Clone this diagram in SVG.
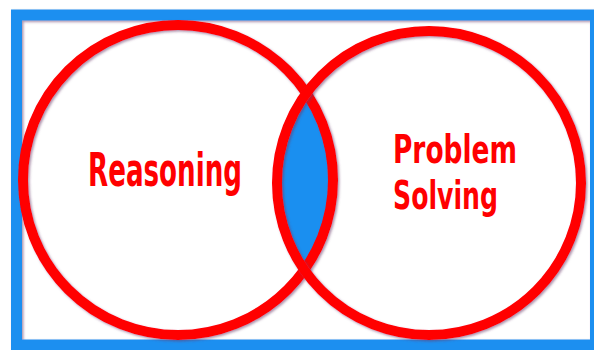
<svg xmlns="http://www.w3.org/2000/svg" width="594" height="350" viewBox="0 0 594 350">
<defs>
<filter id="sh" x="-10%" y="-10%" width="120%" height="120%">
<feDropShadow dx="1.5" dy="1.5" stdDeviation="1.2" flood-color="#6a3a6a" flood-opacity="0.55"/>
</filter>
<clipPath id="lc"><circle cx="178" cy="180" r="155"/></clipPath>
</defs>
<style>
.ring{fill:none;stroke:#ff0000;stroke-width:10;filter:url(#sh)}
.lbl{font-family:"DejaVu Sans Condensed","DejaVu Sans",sans-serif;font-stretch:condensed;font-weight:bold;fill:#ff0000}
</style>
<rect x="0" y="0" width="594" height="350" fill="#ffffff"/>
<rect id="frame" x="16.5" y="15" width="579" height="330" fill="none" stroke="#1a8ff0" stroke-width="11" filter="url(#sh)"/>
<g id="overlap">
<circle cx="429" cy="183" r="152" fill="#1a8ff0" clip-path="url(#lc)"/>
</g>
<g id="reasoning">
<circle class="ring" cx="178" cy="180" r="155"/>
<text class="lbl" x="88" y="186" font-size="46" textLength="154" lengthAdjust="spacingAndGlyphs">Reasoning</text>
</g>
<g id="problem-solving">
<circle class="ring" cx="429" cy="183" r="152"/>
<text class="lbl" font-size="39.5"><tspan x="393" y="163" textLength="124" lengthAdjust="spacingAndGlyphs">Problem</tspan><tspan x="393" y="209" textLength="105" lengthAdjust="spacingAndGlyphs">Solving</tspan></text>
</g>
<g id="connectors"/>
</svg>
